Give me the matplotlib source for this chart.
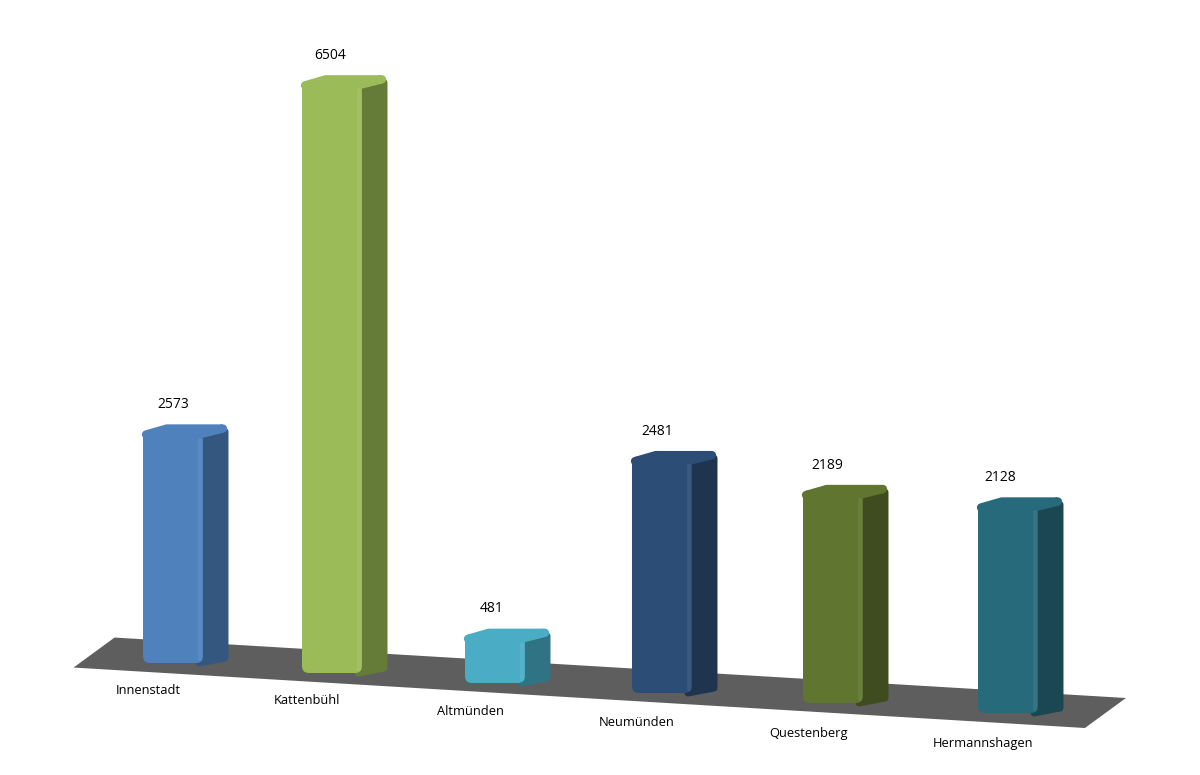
import matplotlib
matplotlib.use("Agg")
from matplotlib import pyplot as plt
from matplotlib.patches import FancyBboxPatch, Polygon
import numpy as np

# Daten
stadtteile = ["Innenstadt", "Kattenbühl", "Altmünden", "Neumünden", "Questenberg", "Hermannshagen"]
werte = [2573, 6504, 481, 2481, 2189, 2128]
farben_front = ["#4F81BD", "#9BBB59", "#4BACC6", "#2C4D75", "#5F7530", "#276A7C"]
farben_seite = ["#34577F", "#657C38", "#2F7385", "#1E344F", "#3E4C1F", "#1A4752"]

plt.rcParams['font.family'] = ['Open Sans', 'DejaVu Sans']

fig = plt.figure(figsize=(12, 7.75), dpi=100)
ax = fig.add_axes([0, 0, 1, 1])
ax.set_xlim(0, 1200)
ax.set_ylim(775, 0)
ax.axis("off")

# perspektivische Abbildung: Kategorie -> Position (Pixel)
def px(t):
    return 143 + 157 * t + 2 * t * t

def py(t):
    return 663 + 10 * t

def skala(t):
    return 0.0888 * (1 + 0.0175 * t)

breite = 60
tiefe = np.array([26, -5])

# Boden
t_links, t_rechts = -0.445, 5.6
vl = np.array([px(t_links), py(t_links) + 9])
vr = np.array([px(t_rechts), py(t_rechts) + 9])
d = np.array([41, -30])
boden = Polygon([vl, vr, vr + d, vl + d], closed=True, facecolor="#5E5E5E", edgecolor="none", zorder=1)
ax.add_patch(boden)

for i, (name, wert) in enumerate(zip(stadtteile, werte)):
    x0 = px(i)
    y0 = py(i)
    h = wert * skala(i) + 3
    yt = y0 - h
    xr = x0 + breite - 4
    # Seitenflaeche
    seite = Polygon([(xr, y0), (xr + tiefe[0], y0 + tiefe[1]),
                     (xr + tiefe[0], yt + tiefe[1] + 5), (xr, yt + 5)],
                    closed=True, facecolor=farben_seite[i], edgecolor=farben_seite[i],
                    linewidth=5, joinstyle="round", zorder=2)
    ax.add_patch(seite)
    # Oberseite
    oben = Polygon([(x0 + 3, yt + 3), (x0 + 3 + tiefe[0] * 0.8, yt + tiefe[1] + 2),
                    (xr + tiefe[0] - 2, yt + tiefe[1] + 2), (xr, yt + 3)],
                   closed=True, facecolor=farben_front[i], edgecolor=farben_front[i],
                   linewidth=6, joinstyle="round", zorder=2)
    ax.add_patch(oben)
    # Vorderseite
    front = FancyBboxPatch((x0, yt), breite, h, boxstyle="round,pad=0,rounding_size=7",
                           facecolor=farben_front[i], edgecolor="none", zorder=3)
    ax.add_patch(front)
    # Glanzkante
    ax.plot([x0 + breite - 3, x0 + breite - 3], [yt + 8, y0 - 4], color="white", alpha=0.07,
            linewidth=3, solid_capstyle="round", zorder=4)

    ax.text(x0 + 30 - 1.5 * i, yt - 27, str(wert), ha="center", va="center", fontsize=10, color="#000000", zorder=5)
    ax.text(x0 + 5, y0 + 27 + 0.8 * i, name, ha="center", va="center", fontsize=9.3, color="#000000", zorder=5)

plt.savefig("out.png", dpi=100)
